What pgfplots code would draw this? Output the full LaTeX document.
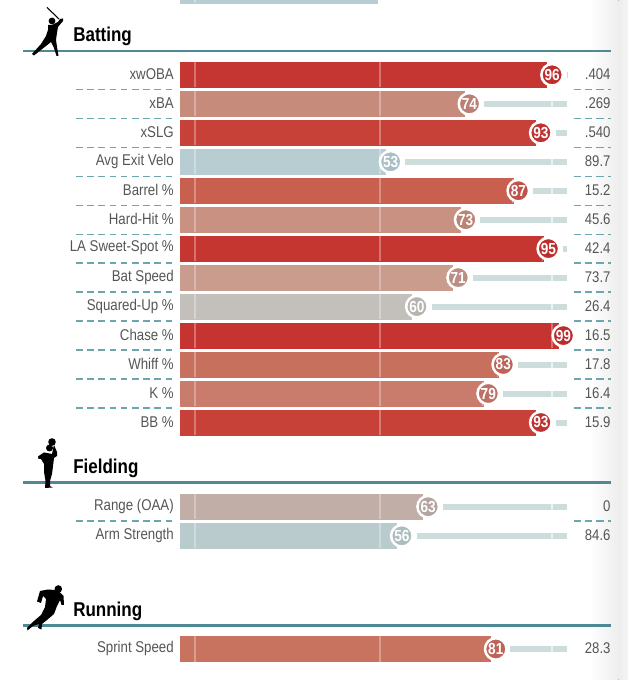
\documentclass[border=0pt]{standalone}
\usepackage{fontspec}
\setmainfont[FakeStretch=0.85]{Liberation Sans}
\usepackage{pgfplots}
\pgfplotsset{compat=1.18}

\definecolor{rulecol}{HTML}{4F8A94}
\definecolor{dashcol}{HTML}{6FA5AD}
\definecolor{trackcol}{HTML}{CCDDDB}
\definecolor{txtcol}{HTML}{555555}
% bar colour, circle colour by percentile
\definecolor{b99}{HTML}{C63431}\definecolor{m99}{HTML}{BC2C2C}
\definecolor{b96}{HTML}{C53632}\definecolor{m96}{HTML}{BC2E2E}
\definecolor{b95}{HTML}{C63631}\definecolor{m95}{HTML}{BC2E2E}
\definecolor{b93}{HTML}{C74139}\definecolor{m93}{HTML}{BE3331}
\definecolor{b87}{HTML}{C9604F}\definecolor{m87}{HTML}{BF524A}
\definecolor{b83}{HTML}{C8705E}\definecolor{m83}{HTML}{BE625A}
\definecolor{b81}{HTML}{C7735F}\definecolor{m81}{HTML}{BF635A}
\definecolor{b79}{HTML}{C97B6C}\definecolor{m79}{HTML}{BE6F66}
\definecolor{b74}{HTML}{C78B7B}\definecolor{m74}{HTML}{BB7F74}
\definecolor{b73}{HTML}{C89181}\definecolor{m73}{HTML}{BC8378}
\definecolor{b71}{HTML}{C99C8D}\definecolor{m71}{HTML}{BC8D82}
\definecolor{b63}{HTML}{C0AEA7}\definecolor{m63}{HTML}{B4A3A0}
\definecolor{b60}{HTML}{C3C0BB}\definecolor{m60}{HTML}{B7B4B0}
\definecolor{b56}{HTML}{B9CBCD}\definecolor{m56}{HTML}{ABBDBD}
\definecolor{b53}{HTML}{B7CDD2}\definecolor{m53}{HTML}{A9BFC5}

% one row: y px, bar end, colour tag, label, value
\newcommand\statrow[5]{
  \addplot[xbar, bar shift=0pt, bar width=18.75pt, fill=b#3, draw=b#3, line width=0.2pt]
    coordinates {(#2,#1) (-3.06,#1)};
  \draw[white, opacity=0.3, line width=1.5pt] ([yshift=-9.4pt]axis cs:0.93,#1) -- ([yshift=9.4pt]axis cs:0.93,#1);
  \draw[white, opacity=0.3, line width=1.5pt] ([yshift=-9.4pt]axis cs:50.2,#1) -- ([yshift=9.4pt]axis cs:50.2,#1);
  \node[anchor=east, inner sep=0pt, yshift=0.4pt, text=txtcol, font=\fontsize{11.7}{12}\selectfont] at (axis cs:-4.66,#1) {#4};
  \node[anchor=east, inner sep=0pt, yshift=0.4pt, text=txtcol, font=\fontsize{11.6}{12}\selectfont] at (axis cs:111.6,#1) {#5};
}
\newcommand\trackline[2]{
  \addplot[trackcol, line width=4.5pt, shorten <=11pt] coordinates {(#2,#1) (100,#1)};
  \draw[white, opacity=0.6, line width=1.2pt] ([yshift=-2.3pt]axis cs:95.9,#1) -- ([yshift=2.3pt]axis cs:95.9,#1);
}
\newcommand\pctdot[3]{
  \addplot[only marks, mark=*, mark size=8.06pt, mark options={fill=m#3, draw=white, line width=1.9pt},
    nodes near coords={#2},
    nodes near coords style={anchor=center, text=white, inner sep=0pt,
      font=\fontsize{12}{12}\selectfont\bfseries}]
    coordinates {(#2,#1)};
}
\newcommand\rowsep[1]{
  \addplot[dashcol, line width=1pt, dash pattern=on 5pt off 3.4pt] coordinates {(-30.75,#1) (-4.66,#1)};
  \addplot[dashcol, line width=1pt, dash pattern=on 5.4pt off 3.2pt] coordinates {(101.7,#1) (111.7,#1)};
}
\newcommand\sectionhead[3]{
  \addplot[rulecol, line width=2pt] coordinates {(-44.86,#1) (111.7,#1)};
  \node[anchor=base west, inner sep=0pt, text=black, font=\fontsize{15}{16}\selectfont\bfseries] at (axis cs:-31.55,#2) {#3};
}

\begin{document}
\begin{tikzpicture}
\useasboundingbox (0,0) rectangle (471pt,510pt);
\begin{axis}[
  scale only axis,
  width=471pt, height=510pt,
  hide axis,
  xmin=-50.99, xmax=116.2,
  ymin=0, ymax=680,
  y dir=reverse,
]
% page edge shadow
\fill[left color=white, right color=black!7, draw=none] (axis cs:106,0) rectangle (axis cs:113.7,680);
\fill[left color=black!7, right color=black!4, draw=none] (axis cs:113.7,0) rectangle (axis cs:116.2,680);

% bar cut off by the top edge
\addplot[xbar, bar shift=0pt, bar width=18.75pt, fill=b53, draw=b53, line width=0.2pt]
  coordinates {(49.5,-9.5) (-3.06,-9.5)};
\draw[white, opacity=0.3, line width=1.5pt] (axis cs:0.93,0) -- (axis cs:0.93,3);
\pctdot{-9.5}{51}{53}

\sectionhead{51}{41.7}{Batting}
\statrow{74.8}{94.5}{96}{xwOBA}{.404}
\statrow{103.8}{72.5}{74}{xBA}{.269}
\statrow{132.8}{91.5}{93}{xSLG}{.540}
\statrow{161.8}{51.5}{53}{Avg Exit Velo}{89.7}
\statrow{190.7}{85.5}{87}{Barrel \%}{15.2}
\statrow{219.7}{71.5}{73}{Hard-Hit \%}{45.6}
\statrow{248.6}{93.5}{95}{LA Sweet-Spot \%}{42.4}
\statrow{277.6}{69.5}{71}{Bat Speed}{73.7}
\statrow{306.6}{58.5}{60}{Squared-Up \%}{26.4}
\statrow{335.6}{97.5}{99}{Chase \%}{16.5}
\statrow{364.5}{81.5}{83}{Whiff \%}{17.8}
\statrow{393.5}{77.5}{79}{K \%}{16.4}
\statrow{422.5}{91.5}{93}{BB \%}{15.9}
\trackline{74.8}{96}
\trackline{103.8}{74}
\trackline{132.8}{93}
\trackline{161.8}{53}
\trackline{190.7}{87}
\trackline{219.7}{73}
\trackline{248.6}{95}
\trackline{277.6}{71}
\trackline{306.6}{60}
\trackline{364.5}{83}
\trackline{393.5}{79}
\trackline{422.5}{93}
\draw[white, opacity=0.3, line width=1.2pt] (axis cs:95.9,323.1) -- (axis cs:95.9,348.1);
\rowsep{89.3}\rowsep{118.3}\rowsep{147.3}\rowsep{176.3}\rowsep{205.2}\rowsep{234.2}
\rowsep{263.1}\rowsep{292.1}\rowsep{321.1}\rowsep{350.1}\rowsep{379}\rowsep{408}
\pctdot{74.8}{96}{96}
\pctdot{103.8}{74}{74}
\pctdot{132.8}{93}{93}
\pctdot{161.8}{53}{53}
\pctdot{190.7}{87}{87}
\pctdot{219.7}{73}{73}
\pctdot{248.6}{95}{95}
\pctdot{277.6}{71}{71}
\pctdot{306.6}{60}{60}
\pctdot{335.6}{99}{99}
\pctdot{364.5}{83}{83}
\pctdot{393.5}{79}{79}
\pctdot{422.5}{93}{93}

\sectionhead{482.7}{473}{Fielding}
\statrow{506.7}{61.5}{63}{Range (OAA)}{0}
\statrow{535.8}{54.5}{56}{Arm Strength}{84.6}
\trackline{506.7}{63}
\trackline{535.8}{56}
\rowsep{521}
\pctdot{506.7}{63}{63}
\pctdot{535.8}{56}{56}

\sectionhead{625.3}{616}{Running}
\statrow{649}{79.5}{81}{Sprint Speed}{28.3}
\trackline{649}{81}
\pctdot{649}{81}{81}
\end{axis}

% player silhouettes, pixel coordinates from the top left
\begin{scope}[x=0.75pt, y=-0.75pt, yshift=510pt]
\draw[black, line width=0.8pt] (47,7.5) -- (59,19);
\fill[black] (52,21) circle (3.4);
\fill[black] (48,25) -- (52,25) -- (58,22) -- (60,19) -- (63,18.5) -- (63,21) -- (58,27) -- (57,33)
  -- (56,40) -- (57,47) -- (58.5,56) -- (56.5,56) -- (54,48) -- (51,42) -- (46,46) -- (34,55.5)
  -- (32,54) -- (41,44) -- (46,36) -- (48,30) -- cycle;
\fill[black] (49.5,448) circle (3.5);
\fill[black] (52,442) circle (3.8);
\fill[black] (38,456.5) -- (44,452.5) -- (47,453) -- (52,454) -- (53,449) -- (54,445) -- (57,452)
  -- (57,456) -- (54,458) -- (53,466) -- (52,474) -- (50,481) -- (50,486) -- (52.5,487.5) -- (45,488)
  -- (45.5,481) -- (44,472) -- (44,464) -- (41,459) -- (38.5,459) -- cycle;
\fill[black] (58.3,589) circle (3.8);
\fill[black] (37,601.5) -- (40,591) -- (48,589.5) -- (55,590) -- (60,592.5) -- (63.5,596) -- (64,605)
  -- (61.5,605) -- (60,600) -- (57,606) -- (54,614) -- (47,620) -- (42,624) -- (41.5,629.5) -- (38,628)
  -- (39,624) -- (33,626) -- (27.5,630.5) -- (27,628) -- (34,621) -- (41,615) -- (45,607) -- (46,599)
  -- (43,596) -- (41,603) -- cycle;
\end{scope}
\end{tikzpicture}
\end{document}
